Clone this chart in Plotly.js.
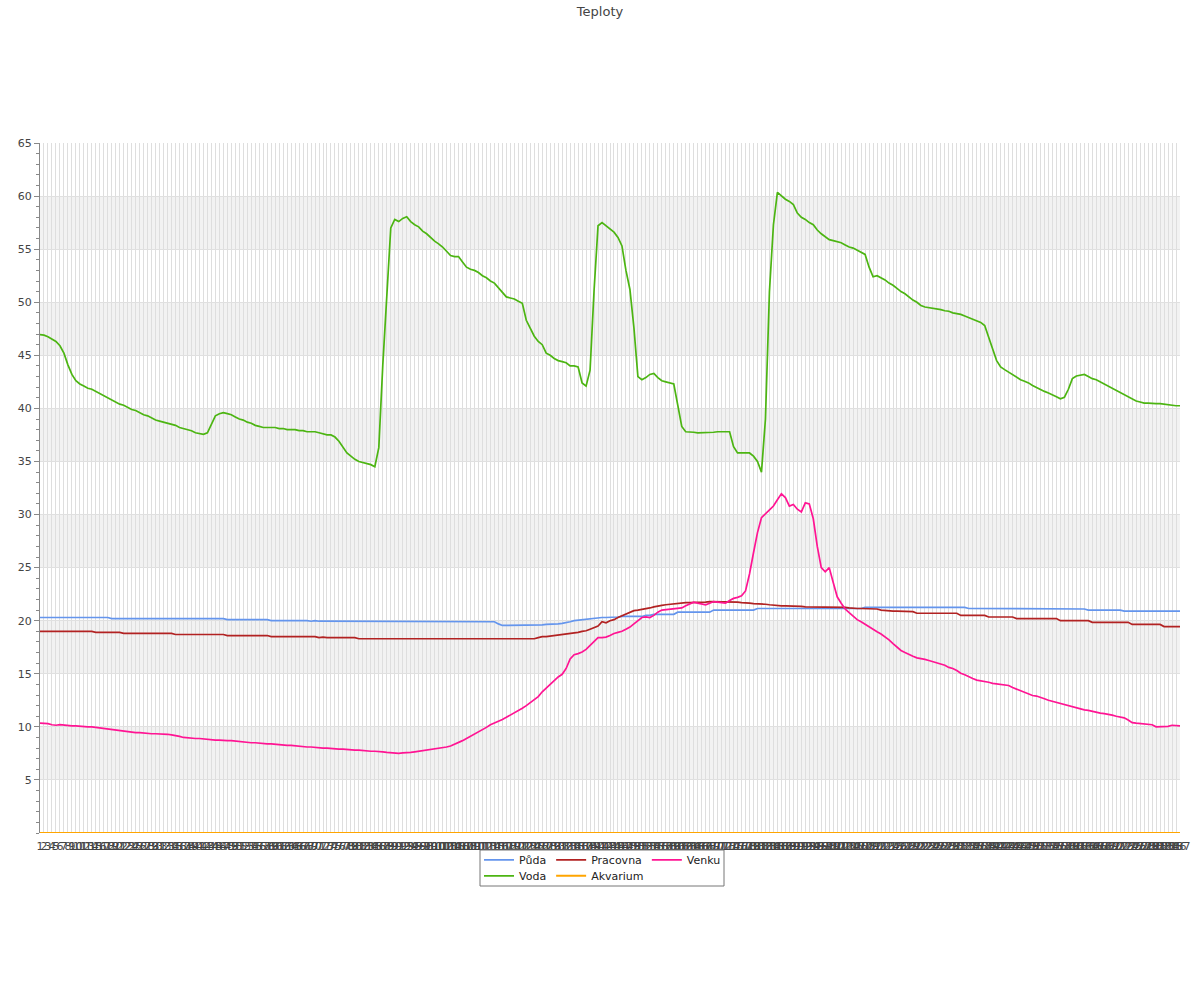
<!DOCTYPE html>
<html>
<head>
<meta charset="utf-8">
<script src="https://cdn.plot.ly/plotly-3.0.1.min.js"></script>
<style>html,body{margin:0;padding:0;background:#fff;}#chart{width:1200px;height:1000px;}</style>
</head>
<body>
<div id="chart"></div>
<script>
const categories = [
"1","2","3","4","5","6","7","8","9","10","11","12","13","14","15","16","17","18","19","20",
"21","22","23","24","25","26","27","28","29","30","31","32","33","34","35","36","37","38","39","40",
"41","42","43","44","45","46","47","48","49","50","51","52","53","54","55","56","57","58","59","60",
"61","62","63","64","65","66","67","68","69","70","71","72","73","74","75","76","77","78","79","80",
"81","82","83","84","85","86","87","88","89","90","91","92","93","94","95","96","97","98","99","100",
"101","102","103","104","105","106","107","108","109","110","111","112","113","114","115","116","117","118","119","120",
"121","122","123","124","125","126","127","128","129","130","131","132","133","134","135","136","137","138","139","140",
"141","142","143","144","145","146","147","148","149","150","151","152","153","154","155","156","157","158","159","160",
"161","162","163","164","165","166","167","168","169","170","171","172","173","174","175","176","177","178","179","180",
"181","182","183","184","185","186","187","188","189","190","191","192","193","194","195","196","197","198","199","200",
"201","202","203","204","205","206","207","208","209","210","211","212","213","214","215","216","217","218","219","220",
"221","222","223","224","225","226","227","228","229","230","231","232","233","234","235","236","237","238","239","240",
"241","242","243","244","245","246","247","248","249","250","251","252","253","254","255","256","257","258","259","260",
"261","262","263","264","265","266","267","268","269","270","271","272","273","274","275","276","277","278","279","280",
"281","282","283","284","285","286","287"
];

const puda = [
20.3,20.3,20.3,20.3,20.3,20.3,20.3,20.3,20.3,20.3,
20.3,20.3,20.3,20.3,20.3,20.3,20.3,20.3,20.2,20.2,
20.2,20.25,20.25,20.2,20.2,20.2,20.2,20.2,20.2,20.2,
20.2,20.2,20.2,20.2,20.2,20.2,20.2,20.2,20.2,20.2,
20.2,20.2,20.2,20.2,20.2,20.2,20.2,20.1,20.1,20.1,
20.1,20.1,20.1,20.1,20.1,20.1,20.1,20.1,20.0,20.0,
20.0,20.05,20.0,20.0,20.0,20.0,20.0,20.0,19.95,20.0,
19.95,19.95,19.95,19.9,19.9,19.9,19.9,19.9,19.9,19.9,
19.9,19.9,19.9,19.9,19.9,19.9,19.9,19.9,19.9,19.95,
19.9,19.9,19.9,19.9,19.9,19.9,19.9,19.9,19.9,19.9,
19.9,19.9,19.9,19.9,19.9,19.9,19.9,19.9,19.9,19.95,
19.9,19.9,19.95,19.9,19.9,19.7,19.55,19.55,19.55,19.55,
19.55,19.55,19.55,19.55,19.55,19.6,19.6,19.65,19.65,19.7,
19.7,19.75,19.8,19.9,20.0,20.05,20.1,20.15,20.2,20.2,
20.25,20.3,20.3,20.3,20.35,20.35,20.4,20.4,20.4,20.4,
20.4,20.4,20.5,20.5,20.6,20.6,20.6,20.6,20.6,20.6,
20.8,20.8,20.8,20.8,20.8,20.8,20.8,20.8,20.8,21.0,
21.0,21.0,21.0,21.0,21.0,21.0,21.0,21.0,21.0,21.0,
21.15,21.15,21.15,21.15,21.15,21.15,21.15,21.15,21.15,21.15,
21.15,21.15,21.15,21.15,21.15,21.15,21.15,21.15,21.15,21.15,
21.15,21.15,21.15,21.15,21.15,21.15,21.15,21.25,21.25,21.25,
21.25,21.25,21.25,21.25,21.25,21.25,21.25,21.25,21.25,21.25,
21.25,21.25,21.25,21.25,21.25,21.25,21.25,21.25,21.25,21.25,
21.25,21.25,21.25,21.15,21.15,21.15,21.15,21.15,21.15,21.1,
21.1,21.1,21.1,21.1,21.1,21.1,21.1,21.1,21.1,21.1,
21.1,21.1,21.1,21.1,21.1,21.1,21.1,21.1,21.1,21.1,
21.1,21.1,21.1,21.0,21.0,21.0,21.0,21.0,21.0,21.0,
21.0,21.0,20.9,20.9,20.9,20.9,20.9,20.9,20.9,20.9,
20.9,20.9,20.9,20.9,20.9,20.9,20.9
];

const voda = [
46.95,46.9,46.75,46.55,46.3,45.9,45.2,44.1,43.2,42.6,
42.3,42.1,41.9,41.8,41.6,41.4,41.2,41.0,40.8,40.6,
40.4,40.3,40.1,39.9,39.8,39.6,39.4,39.3,39.1,38.9,
38.8,38.7,38.6,38.5,38.4,38.2,38.1,38.0,37.9,37.7,
37.6,37.55,37.7,38.5,39.3,39.5,39.6,39.5,39.4,39.2,
39.0,38.9,38.7,38.6,38.4,38.3,38.2,38.2,38.2,38.2,
38.1,38.1,38.0,38.0,38.0,37.9,37.9,37.8,37.8,37.8,
37.7,37.6,37.5,37.5,37.3,36.9,36.3,35.8,35.5,35.2,
35.0,34.9,34.8,34.7,34.5,36.3,44.1,51.1,57.0,57.8,
57.6,57.9,58.05,57.6,57.3,57.1,56.7,56.45,56.1,55.75,
55.5,55.2,54.8,54.4,54.3,54.3,53.8,53.3,53.1,53.0,
52.8,52.5,52.3,52.0,51.8,51.4,50.9,50.5,50.4,50.3,
50.1,49.9,48.3,47.6,46.8,46.3,46.0,45.2,45.0,44.7,
44.5,44.4,44.3,44.0,44.0,43.9,42.4,42.1,43.6,51.1,
57.2,57.5,57.2,56.9,56.6,56.1,55.3,53.0,51.2,47.6,
43.0,42.7,42.9,43.2,43.3,42.9,42.6,42.5,42.4,42.3,
40.3,38.3,37.8,37.8,37.75,37.7,37.7,37.7,37.7,37.75,
37.8,37.8,37.8,37.8,36.4,35.8,35.8,35.8,35.8,35.5,
35.0,34.0,39.0,51.0,57.3,60.35,60.0,59.7,59.5,59.2,
58.4,58.0,57.8,57.5,57.3,56.8,56.45,56.2,55.9,55.8,
55.7,55.6,55.4,55.2,55.1,54.9,54.7,54.5,53.3,52.4,
52.5,52.3,52.1,51.8,51.6,51.3,51.0,50.8,50.5,50.2,
50.0,49.7,49.55,49.5,49.45,49.4,49.3,49.2,49.15,49.0,
48.95,48.85,48.7,48.55,48.45,48.3,48.1,47.8,46.8,45.6,
44.5,43.9,43.65,43.4,43.15,42.9,42.7,42.55,42.4,42.15,
41.95,41.8,41.6,41.45,41.3,41.1,40.9,41.05,41.8,42.8,
43.05,43.15,43.2,43.0,42.8,42.7,42.5,42.3,42.1,41.9,
41.7,41.45,41.25,41.05,40.85,40.7,40.6,40.5,40.5,40.45,
40.45,40.45,40.4,40.3,40.25,40.25,40.25
];

const pracovna = [
19.0,19.0,19.0,19.0,19.0,19.0,19.0,19.0,19.0,19.0,
19.0,19.0,19.0,19.0,18.9,18.9,18.9,18.9,18.9,18.9,
18.9,18.8,18.8,18.8,18.8,18.8,18.8,18.8,18.8,18.8,
18.8,18.8,18.8,18.8,18.7,18.7,18.7,18.7,18.7,18.7,
18.7,18.7,18.7,18.7,18.7,18.7,18.7,18.6,18.6,18.6,
18.6,18.6,18.6,18.6,18.6,18.6,18.6,18.6,18.5,18.5,
18.5,18.5,18.5,18.5,18.5,18.5,18.5,18.5,18.5,18.5,
18.4,18.45,18.4,18.4,18.45,18.4,18.4,18.4,18.4,18.4,
18.3,18.3,18.3,18.3,18.3,18.3,18.3,18.3,18.3,18.3,
18.3,18.3,18.3,18.3,18.3,18.3,18.3,18.3,18.3,18.3,
18.3,18.3,18.3,18.3,18.3,18.3,18.3,18.3,18.3,18.3,
18.3,18.3,18.3,18.3,18.3,18.3,18.3,18.3,18.3,18.3,
18.3,18.3,18.3,18.3,18.3,18.4,18.5,18.5,18.55,18.6,
18.6,18.65,18.7,18.75,18.8,18.9,19.0,19.05,19.2,19.35,
19.5,19.9,19.8,20.0,20.1,20.3,20.45,20.65,20.8,20.95,
21.0,21.05,21.1,21.2,21.3,21.4,21.45,21.5,21.55,21.6,
21.6,21.65,21.7,21.7,21.7,21.75,21.75,21.75,21.8,21.8,
21.8,21.8,21.8,21.8,21.75,21.75,21.7,21.7,21.65,21.6,
21.6,21.55,21.55,21.5,21.45,21.4,21.4,21.4,21.4,21.4,
21.4,21.35,21.3,21.3,21.3,21.3,21.3,21.3,21.3,21.3,
21.3,21.3,21.25,21.2,21.15,21.15,21.15,21.15,21.15,21.15,
21.1,21.0,20.95,20.9,20.9,20.9,20.9,20.9,20.9,20.85,
20.7,20.7,20.7,20.7,20.7,20.7,20.7,20.7,20.7,20.7,
20.7,20.5,20.5,20.5,20.5,20.5,20.5,20.5,20.35,20.35,
20.35,20.35,20.35,20.35,20.35,20.2,20.2,20.2,20.2,20.2,
20.2,20.2,20.2,20.2,20.2,20.2,20.0,20.0,20.0,20.0,
20.0,20.0,20.0,20.0,19.85,19.85,19.85,19.85,19.85,19.85,
19.85,19.85,19.85,19.85,19.65,19.65,19.65,19.65,19.65,19.65,
19.65,19.65,19.45,19.45,19.45,19.45,19.45
];

const akvarium = [
0,0,0,0,0,0,0,0,0,0,0,0,0,0,0,0,0,0,0,0,
0,0,0,0,0,0,0,0,0,0,0,0,0,0,0,0,0,0,0,0,
0,0,0,0,0,0,0,0,0,0,0,0,0,0,0,0,0,0,0,0,
0,0,0,0,0,0,0,0,0,0,0,0,0,0,0,0,0,0,0,0,
0,0,0,0,0,0,0,0,0,0,0,0,0,0,0,0,0,0,0,0,
0,0,0,0,0,0,0,0,0,0,0,0,0,0,0,0,0,0,0,0,
0,0,0,0,0,0,0,0,0,0,0,0,0,0,0,0,0,0,0,0,
0,0,0,0,0,0,0,0,0,0,0,0,0,0,0,0,0,0,0,0,
0,0,0,0,0,0,0,0,0,0,0,0,0,0,0,0,0,0,0,0,
0,0,0,0,0,0,0,0,0,0,0,0,0,0,0,0,0,0,0,0,
0,0,0,0,0,0,0,0,0,0,0,0,0,0,0,0,0,0,0,0,
0,0,0,0,0,0,0,0,0,0,0,0,0,0,0,0,0,0,0,0,
0,0,0,0,0,0,0,0,0,0,0,0,0,0,0,0,0,0,0,0,
0,0,0,0,0,0,0,0,0,0,0,0,0,0,0,0,0,0,0,0,
0,0,0,0,0,0,0
];

const venku = [
10.35,10.35,10.3,10.2,10.15,10.2,10.15,10.15,10.1,10.1,
10.05,10.0,10.0,10.0,9.95,9.9,9.85,9.75,9.7,9.7,
9.65,9.55,9.5,9.5,9.45,9.45,9.4,9.4,9.35,9.35,
9.35,9.3,9.3,9.25,9.2,9.1,9.0,8.95,8.9,8.9,
8.9,8.85,8.85,8.8,8.75,8.75,8.7,8.7,8.7,8.65,
8.6,8.55,8.55,8.5,8.5,8.45,8.45,8.4,8.4,8.35,
8.3,8.3,8.25,8.25,8.2,8.2,8.15,8.1,8.1,8.05,
8.05,8.0,8.0,7.95,7.9,7.9,7.9,7.85,7.85,7.8,
7.8,7.75,7.75,7.7,7.7,7.7,7.65,7.6,7.55,7.55,
7.5,7.55,7.55,7.6,7.65,7.7,7.75,7.8,7.85,7.9,
7.95,8.0,8.1,8.2,8.35,8.5,8.7,8.9,9.1,9.3,
9.5,9.7,9.95,10.2,10.35,10.55,10.7,10.9,11.1,11.3,
11.5,11.75,12.0,12.3,12.55,12.85,13.3,13.65,14.0,14.4,
14.7,14.95,15.5,16.4,16.8,16.9,17.05,17.3,17.7,18.1,
18.4,18.4,18.45,18.6,18.8,18.9,19.0,19.2,19.4,19.7,
20.0,20.3,20.35,20.3,20.5,20.8,21.0,21.05,21.1,21.1,
21.15,21.2,21.4,21.6,21.75,21.65,21.55,21.5,21.65,21.8,
21.75,21.7,21.65,21.9,22.1,22.2,22.35,22.8,24.4,26.4,
28.3,29.7,30.1,30.4,30.8,31.4,31.95,31.6,30.8,30.95,
30.5,30.25,31.1,31.0,29.6,27.0,25.0,24.6,25.0,23.6,
22.25,21.65,21.1,20.75,20.4,20.1,19.9,19.65,19.4,19.15,
18.95,18.75,18.5,18.2,17.85,17.5,17.2,17.0,16.8,16.65,
16.5,16.45,16.35,16.25,16.15,16.0,15.9,15.8,15.6,15.5,
15.3,15.05,14.9,14.7,14.55,14.4,14.35,14.3,14.2,14.1,
14.05,14.0,14.0,13.9,13.7,13.55,13.4,13.2,13.05,12.95,
12.9,12.8,12.65,12.5,12.4,12.3,12.2,12.1,11.95,11.85,
11.75,11.7,11.6,11.55,11.45,11.35,11.3,11.25,11.2,11.1,
11.0,10.95,10.85,10.65,10.4,10.35,10.3,10.3,10.25,10.2,
10.0,10.0,10.0,10.05,10.15,10.1,10.1
];

const yTickVals = [5,10,15,20,25,30,35,40,45,50,55,60,65];
const bandStarts = [5,15,25,35,45,55];

const font = "DejaVu Sans, sans-serif";

function line(name, y, color, legend, extra) {
  return Object.assign({
    type: 'scatter', mode: 'lines', name: name, x: categories, y: y,
    line: {color: color, width: 1.7}, legend: legend, hoverinfo: 'skip'
  }, extra || {});
}

const traces = [
  line('Půda', puda, '#6495ed', 'legend'),
  line('Voda', voda, '#4cb512', 'legend2'),
  line('Pracovna', pracovna, '#b22222', 'legend'),
  line('Akvarium', akvarium, '#ffa500', 'legend2', {cliponaxis: false, line: {color: '#ffa500', width: 2}}),
  line('Venku', venku, '#ff1493', 'legend')
];

const shapes = bandStarts.map(b => ({
  type: 'rect', xref: 'paper', yref: 'y', x0: 0, x1: 1, y0: b, y1: b + 5,
  fillcolor: '#f2f2f2', line: {width: 0}, layer: 'below'
}));
shapes.push({
  type: 'rect', xref: 'paper', yref: 'paper',
  x0: (480 - 40) / 1140, x1: (724 - 40) / 1140,
  y0: (833 - 886) / 690, y1: (833 - 850) / 690,
  line: {color: '#777', width: 1}, fillcolor: 'rgba(0,0,0,0)', layer: 'above'
});

const legendBase = {
  orientation: 'h', xanchor: 'left', yanchor: 'top',
  x: (479 - 40) / 1140, bgcolor: 'rgba(0,0,0,0)', borderwidth: 0,
  font: {family: font, size: 11, color: '#222'}, itemwidth: 30,
  traceorder: 'normal'
};

const layout = {
  width: 1200, height: 1000,
  margin: {l: 40, r: 20, t: 143, b: 167},
  paper_bgcolor: '#fff', plot_bgcolor: '#fff',
  font: {family: font, size: 11, color: '#444'},
  title: {text: 'Teploty', x: 0.5, xref: 'container', xanchor: 'center',
          y: 0.989, yref: 'container', yanchor: 'middle',
          font: {family: font, size: 13, color: '#444'}},
  showlegend: true,
  legend: Object.assign({}, legendBase, {y: -0.018}),
  legend2: Object.assign({}, legendBase, {y: -0.041}),
  xaxis: {
    type: 'category', range: [0, 286], tickmode: 'linear', tick0: 0, dtick: 1,
    tickangle: 0, showgrid: true, gridcolor: '#dedede', gridwidth: 1,
    showline: false, zeroline: false, ticks: 'outside', ticklen: 3, tickcolor: 'rgba(0,0,0,0)',
    tickfont: {family: font, size: 11, color: '#444'}, fixedrange: true
  },
  yaxis: {
    range: [0, 65], tickmode: 'array', tickvals: yTickVals,
    showgrid: true, gridcolor: '#e0e0e0', gridwidth: 1, zeroline: false,
    showline: true, linecolor: '#888', linewidth: 1,
    ticks: 'outside', ticklen: 5, tickcolor: '#888',
    minor: {tickmode: 'linear', tick0: 0, dtick: 1, ticks: 'outside', ticklen: 3, tickcolor: '#888', showgrid: false},
    tickfont: {family: font, size: 11, color: '#444'}, fixedrange: true
  },
  shapes: shapes
};

Plotly.newPlot('chart', traces, layout, {staticPlot: true, displayModeBar: false});
</script>
</body>
</html>
